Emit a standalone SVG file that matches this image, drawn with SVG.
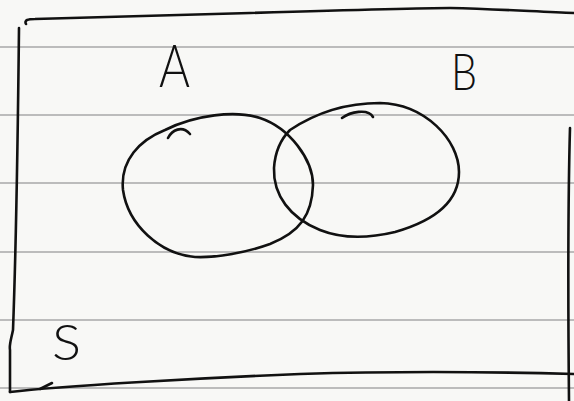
<svg xmlns="http://www.w3.org/2000/svg" width="574" height="401" viewBox="0 0 574 401">
  <style>
    .rule { stroke: #a8a8a8; stroke-width: 1.3; fill: none; }
    .ink { stroke: #111; stroke-width: 2.6; fill: none; stroke-linecap: round; stroke-linejoin: round; }
    .lbl { font-family: Lato, "Liberation Sans", sans-serif; font-weight: 300; fill: #111; }
  </style>
  <rect x="0" y="0" width="574" height="401" fill="#f8f8f6"/>
  <g id="paper-lines">
    <line class="rule" x1="0" y1="47" x2="574" y2="47"/>
    <line class="rule" x1="0" y1="115" x2="574" y2="115"/>
    <line class="rule" x1="0" y1="183" x2="574" y2="183"/>
    <line class="rule" x1="0" y1="252" x2="574" y2="252"/>
    <line class="rule" x1="0" y1="320" x2="574" y2="320"/>
    <line class="rule" x1="0" y1="388" x2="574" y2="388"/>
  </g>
  <g id="frame-S">
    <path class="ink" d="M 26,24 C 24,20 28,19 35,19 L 250,13 C 350,10 420,8 450,8 C 500,9 540,12 574,13"/>
    <path class="ink" d="M 19,28 C 18,120 16,250 13,330 C 11,340 9,345 10,350 L 10,392"/>
    <path class="ink" d="M 10,392 C 60,386 200,378 300,374 C 400,371 500,372 574,374"/>
    <path class="ink" d="M 40,389 L 52,383"/>
    <path class="ink" d="M 570,128 C 568,200 568,300 569,401"/>
    <text class="lbl" x="52" y="360" font-size="49" textLength="29" lengthAdjust="spacingAndGlyphs">S</text>
  </g>
  <g id="set-A">
    <path class="ink" d="M 165,130 C 195,115 235,110 260,118 C 290,128 313,160 313,185 C 312,215 300,232 270,244 C 245,253 215,258 195,257 C 160,254 128,225 123,190 C 120,160 140,140 165,130 Z"/>
    <path class="ink" d="M 168,138 C 172,130 182,125 190,134"/>
    <text class="lbl" x="159" y="87" font-size="60" textLength="31" lengthAdjust="spacingAndGlyphs">A</text>
  </g>
  <g id="set-B">
    <path class="ink" d="M 290,130 C 320,110 350,103 380,103 C 425,104 459,140 459,172 C 459,205 430,222 395,232 C 370,238 345,240 320,230 C 290,218 273,195 274,168 C 275,152 280,140 290,130 Z"/>
    <path class="ink" d="M 342,118 C 350,112 368,108 373,117"/>
    <text class="lbl" x="451" y="90" font-size="52" textLength="26" lengthAdjust="spacingAndGlyphs">B</text>
  </g>
</svg>
